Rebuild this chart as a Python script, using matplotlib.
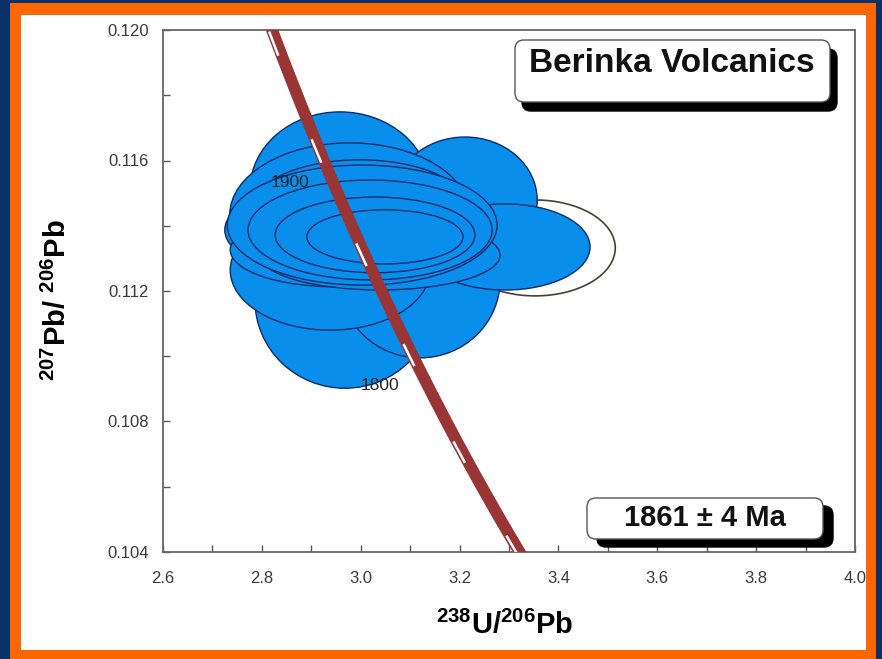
import numpy as np
import matplotlib.pyplot as plt
from matplotlib.patches import Ellipse, Rectangle, FancyBboxPatch
from matplotlib.transforms import IdentityTransform
from matplotlib.ticker import MultipleLocator, FormatStrFormatter

plt.rcParams['font.family'] = ['Liberation Sans', 'DejaVu Sans']
plt.rcParams['mathtext.fontset'] = 'custom'
plt.rcParams['mathtext.rm'] = 'Liberation Sans'
plt.rcParams['mathtext.bf'] = 'Liberation Sans:bold'

# error ellipses (centre 238U/206Pb, centre 207Pb/206Pb, half axes), drawing order
ell_x = [3.353, 2.958, 3.211, 2.968, 3.120, 2.938, 3.292, 2.978,
         2.978, 2.999, 2.988, 2.948, 3.039, 3.003, 3.019, 3.029, 3.049]
ell_y = [0.11332, 0.11510, 0.11479, 0.11172, 0.11234, 0.11264, 0.11335, 0.11387,
         0.11433, 0.11464, 0.11433, 0.11326, 0.11310, 0.11402, 0.11387, 0.11372, 0.11366]
ell_sx = [0.162, 0.182, 0.146, 0.182, 0.162, 0.202, 0.172, 0.253,
          0.243, 0.212, 0.233, 0.212, 0.243, 0.273, 0.247, 0.202, 0.158]
ell_sy = [0.00147, 0.00239, 0.00193, 0.00270, 0.00239, 0.00184, 0.00132, 0.00153,
          0.00221, 0.00138, 0.00123, 0.00113, 0.00107, 0.00184, 0.00153, 0.00116, 0.00083]
ell_used = [False] + [True] * 16

# concordia ages (Ma)
conc_ages = np.arange(1600, 2051, 2)
tick_ages = [1700, 1750, 1800, 1850, 1900, 1950]
label_text = ['1900', '1800']
label_x = [2.857, 3.039]
label_y = [0.11534, 0.10909]

title_text = 'Berinka Volcanics'
age_text = '1861 \u00b1 4 Ma'

L238 = 1.55125e-10
L235 = 9.8485e-10
U_RATIO = 137.88


def concordia(t_ma):
    t = np.asarray(t_ma, dtype=float) * 1e6
    e8 = np.exp(L238 * t) - 1
    e5 = np.exp(L235 * t) - 1
    return 1 / e8, e5 / e8 / U_RATIO


W, H = 882, 659
fig = plt.figure(figsize=(W / 100, H / 100), dpi=100)

# frame: navy outside, orange band, white inside
fig.patches.append(Rectangle((0, 0), W, H, transform=IdentityTransform(),
                             facecolor='#0B3268', edgecolor='none', zorder=-3))
fig.patches.append(Rectangle((10, 0), 866, 656, transform=IdentityTransform(),
                             facecolor='#FF6600', edgecolor='none', zorder=-2))
fig.patches.append(Rectangle((21, 9), 845, 635, transform=IdentityTransform(),
                             facecolor='white', edgecolor='none', zorder=-1))

ax = fig.add_axes([163 / W, 1 - 552 / H, 692 / W, 522 / H])
ax.set_facecolor('none')

for x, y, sx, sy, used in zip(ell_x, ell_y, ell_sx, ell_sy, ell_used):
    if used:
        e = Ellipse((x, y), 2 * sx, 2 * sy, facecolor='#0A8EEB',
                    edgecolor='#0B2A6B', lw=1.0)
    else:
        e = Ellipse((x, y), 2 * sx, 2 * sy, facecolor='white',
                    edgecolor='#4A4030', lw=1.2)
    ax.add_patch(e)

cx, cy = concordia(conc_ages)
ax.plot(cx, cy, color='#9A3535', lw=8.5, solid_capstyle='butt', zorder=5)
for t in tick_ages:
    tx, ty = concordia(np.linspace(t - 5, t + 5, 5))
    ax.plot(tx - 0.007, ty, color='white', lw=1.8, zorder=6)

for s, x, y in zip(label_text, label_x, label_y):
    ax.text(x, y, s, ha='center', va='center', fontsize=12.5, color='#222222', zorder=7)

ax.set_xlim(2.6, 4.0)
ax.set_ylim(0.104, 0.120)
ax.xaxis.set_major_locator(MultipleLocator(0.2))
ax.xaxis.set_minor_locator(MultipleLocator(0.1))
ax.yaxis.set_major_locator(MultipleLocator(0.004))
ax.yaxis.set_minor_locator(MultipleLocator(0.002))
ax.xaxis.set_major_formatter(FormatStrFormatter('%.1f'))
ax.yaxis.set_major_formatter(FormatStrFormatter('%.3f'))
ax.tick_params(which='both', direction='in', length=5, width=1, color='#555555')
ax.tick_params(which='major', labelsize=12, labelcolor='#3A3A3A')
ax.tick_params(axis='x', pad=14)
ax.tick_params(axis='y', pad=10)
for sp in ax.spines.values():
    sp.set_color('#666666')
    sp.set_linewidth(1.3)

ax.set_xlabel(r'$^{\mathbf{238}}$U/$^{\mathbf{206}}$Pb', fontsize=21, fontweight='bold')
ax.set_ylabel(r'$^{\mathbf{207}}$Pb/ $^{\mathbf{206}}$Pb', fontsize=21, fontweight='bold')
ax.xaxis.set_label_coords(0.494, -0.112)
ax.yaxis.set_label_coords(-0.131, 0.483)


def shadow_box(x0, y0, x1, y1, dx, dy, text, cx_t, cy_t, size):
    # pixel coordinates measured from the top-left corner
    sh = FancyBboxPatch((x0 + dx, H - y1 - dy), x1 - x0, y1 - y0,
                        boxstyle='round,pad=0,rounding_size=9',
                        transform=IdentityTransform(), facecolor='black',
                        edgecolor='black', lw=1)
    bx = FancyBboxPatch((x0, H - y1), x1 - x0, y1 - y0,
                        boxstyle='round,pad=0,rounding_size=9',
                        transform=IdentityTransform(), facecolor='white',
                        edgecolor='#555555', lw=1)
    fig.patches.extend([sh, bx])
    fig.text(cx_t / W, 1 - cy_t / H, text, ha='center', va='center',
             fontsize=size, fontweight='bold', color='#111111')


shadow_box(515, 40, 830, 102, 7, 9, title_text, 672, 64, 24)
shadow_box(587, 498, 823, 539, 10, 8, age_text, 705, 518, 21)

fig.savefig('out.png', dpi=100)
